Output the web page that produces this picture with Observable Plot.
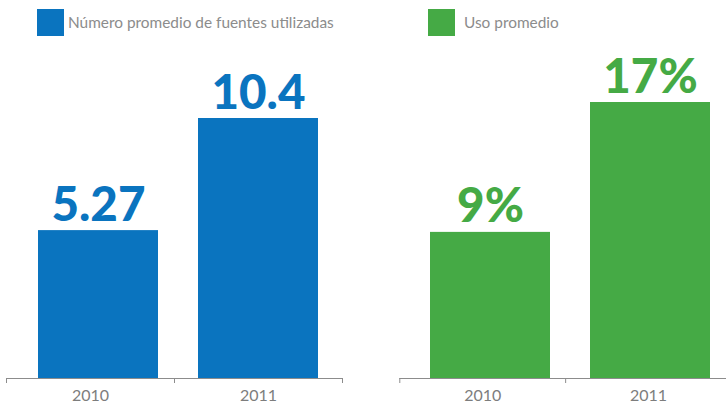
<!DOCTYPE html>
<html>
<head>
<meta charset="utf-8">
<script src="https://cdn.jsdelivr.net/npm/d3@7"></script>
<script src="https://cdn.jsdelivr.net/npm/@observablehq/plot@0.6"></script>
<style>
  html, body { margin: 0; padding: 0; background: #fff; width: 726px; height: 404px; overflow: hidden; }
  .panel { position: absolute; top: 0; height: 404px; }
  .legend { height: 45px; position: relative; font-family: "Lato", "Open Sans", sans-serif; font-size: 15.4px; color: #8c8c8c; }
  .sw { position: absolute; top: 9px; width: 27px; height: 27px; }
  .lt { position: absolute; top: 11px; line-height: 22px; white-space: nowrap; }
  .layer { position: absolute; left: 0; top: 45px; }
  svg { overflow: visible; }
</style>
</head>
<body>
<div id="left" class="panel" style="left:0px;width:363px"></div>
<div id="right" class="panel" style="left:363px;width:368px"></div>
<script>
const years = ["2010", "2011"];
const sources = [5.27, 10.4];
const usage = [9, 17];
const legendLabels = ["Número promedio de fuentes utilizadas", "Uso promedio"];
const colors = ["#0a74bf", "#45aa45"];

function panel(el, values, fmt, color, label, o) {
  const rows = years.map((y, i) => ({i, year: y, value: values[i]}));
  const legend = document.createElement("div");
  legend.className = "legend";
  legend.innerHTML = `<div class="sw" style="left:${o.swLeft}px;background:${color}"></div><div class="lt" style="left:${o.textLeft}px">${label}</div>`;
  el.appendChild(legend);

  const yScale = {type: o.yType, exponent: o.exponent, domain: o.yDomain, range: [333, o.yTop], axis: null};

  // axis layer: baseline, ticks at category boundaries, year labels
  const axis = Plot.plot({
    width: o.width, height: 359,
    marginLeft: o.axisLeft, marginRight: o.width - o.axisRight, marginTop: 0, marginBottom: 26,
    style: {background: "none", overflow: "visible"},
    x: {type: "linear", domain: [0, years.length], axis: null},
    y: yScale,
    marks: [
      Plot.ruleY([0], {stroke: "#8c8c8c", strokeWidth: 1}),
      Plot.axisX({ticks: d3.range(years.length + 1), tickSize: 5, tickFormat: () => "", stroke: "#8c8c8c", fill: "none"}),
      Plot.text(rows, {x: d => d.i + 0.5, frameAnchor: "bottom", text: "year", dy: 17, lineAnchor: "middle",
        fontSize: 16, fill: "#7d7d7d", fontFamily: "Lato, 'Open Sans', sans-serif"})
    ]
  });
  axis.classList.add("layer");
  el.appendChild(axis);

  // bar layer
  const bars = Plot.plot({
    width: o.width, height: 359,
    marginLeft: o.barLeft, marginRight: o.width - o.barRight, marginTop: 0, marginBottom: 26,
    style: {background: "none", overflow: "visible"},
    x: {type: "band", domain: years, paddingInner: 0.2484, paddingOuter: 0, axis: null},
    y: yScale,
    marks: [
      Plot.barY(rows, {x: "year", y: "value", fill: color}),
      Plot.text(rows, {x: "year", y: "value", text: d => fmt(d.value), dy: -10, lineAnchor: "bottom",
        fontSize: 47.5, fontWeight: 900, fill: color, fontFamily: "Lato, 'Liberation Sans', sans-serif"})
    ]
  });
  bars.classList.add("layer");
  el.appendChild(bars);
}

panel(document.getElementById("left"), sources, v => String(v), colors[0], legendLabels[0],
  {width: 363, axisLeft: 6, axisRight: 342, barLeft: 37, barRight: 319, swLeft: 37, textLeft: 68,
   yType: "pow", exponent: 0.83, yDomain: [0, 10.4], yTop: 73});
panel(document.getElementById("right"), usage, v => v + "%", colors[1], legendLabels[1],
  {width: 368, axisLeft: 36.3, axisRight: 368, barLeft: 66, barRight: 348, swLeft: 65, textLeft: 101,
   yType: "linear", exponent: 1, yDomain: [0, 17], yTop: 57});
</script>
</body>
</html>
